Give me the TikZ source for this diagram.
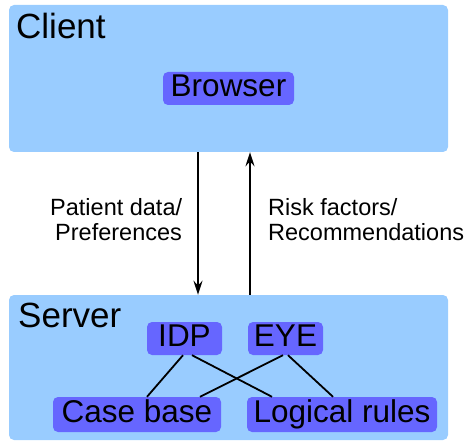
\documentclass[tikz,border=0pt]{standalone}
\usepackage{fontspec}
\setmainfont{Liberation Sans}
\usetikzlibrary{arrows.meta}
\definecolor{outerblue}{HTML}{99CCFF}
\definecolor{innerblue}{HTML}{6666FF}
\begin{document}
\begin{tikzpicture}[x=1pt,y=-1pt,
  outer/.style={fill=outerblue, rounded corners=5pt, inner sep=0pt},
  innerbox/.style={fill=innerblue, rounded corners=5pt, inner xsep=0pt, inner ysep=1.5pt,
    font=\fontsize{31.5}{31.5}\selectfont, text height=23pt, text depth=7pt},
  title/.style={font=\fontsize{35}{35}\selectfont, anchor=base west, inner sep=0pt},
  lbl/.style={font=\fontsize{23.5}{25}\selectfont, anchor=base west, inner sep=0pt},
  link/.style={line width=1.8pt},
  arr/.style={line width=2pt, -{Stealth[length=14pt,width=9pt]}}]
\useasboundingbox (0,0) rectangle (466,441);
\node[outer, minimum width=439pt, minimum height=147pt] (client) at (228.5,78.5) {};
\node[outer, minimum width=439pt, minimum height=145pt] (server) at (228.5,367.5) {};
\node[title] (clientlbl) at (16,39) {Client};
\node[title] (serverlbl) at (18,327) {Server};
\node[innerbox, minimum width=131pt, minimum height=33pt] (browser) at (228.5,88.5) {Browser};
\node[innerbox, minimum width=75pt, minimum height=33pt] (idp) at (184.5,338.5) {IDP};
\node[innerbox, minimum width=75pt, minimum height=33pt] (eye) at (285.5,338.5) {EYE};
\node[innerbox, minimum width=168pt, minimum height=35pt] (case) at (137,414.5) {Case base};
\node[innerbox, minimum width=190pt, minimum height=35pt] (logic) at (342,414.5) {Logical rules};
\node[lbl] (pd1) at (50,215) {Patient data/};
\node[lbl] (pd2) at (55,240) {Preferences};
\node[lbl] (rf1) at (268,215) {Risk factors/};
\node[lbl] (rf2) at (268,240) {Recommendations};
\coordinate (xa) at (198,0);
\coordinate (xb) at (250,0);
\draw[arr] (client.south -| xa) -- (server.north -| xa);
\draw[arr] (server.north -| xb) -- (client.south -| xb);
\draw[link] ([xshift=-1.5pt]idp.south) -- ([xshift=10pt]case.north);
\draw[link] ([xshift=7.5pt]idp.south) -- ([xshift=-70pt]logic.north);
\draw[link] ([xshift=-2.5pt]eye.south) -- ([xshift=63pt]case.north);
\draw[link] ([xshift=2.5pt]eye.south) -- ([xshift=-9pt]logic.north);
\end{tikzpicture}
\end{document}
